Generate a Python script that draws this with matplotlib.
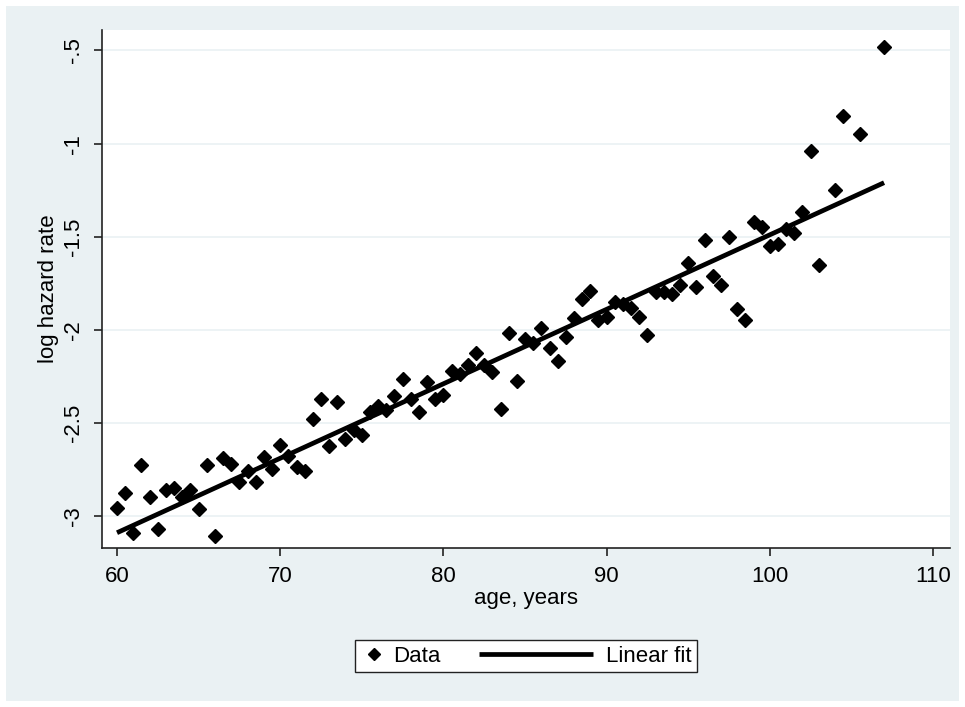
import matplotlib
matplotlib.use("Agg")
import matplotlib.pyplot as plt
from matplotlib.patches import Rectangle
from matplotlib.legend_handler import HandlerLine2D
import numpy as np

plt.rcParams['font.family'] = ['Liberation Sans', 'DejaVu Sans']

age = [60, 60.5, 61, 61.5, 62, 62.5, 63, 63.5, 64, 64.5,
       65, 65.5, 66, 66.5, 67, 67.5, 68, 68.5, 69, 69.5,
       70, 70.5, 71, 71.5, 72, 72.5, 73, 73.5, 74, 74.5,
       75, 75.5, 76, 76.5, 77, 77.5, 78, 78.5, 79, 79.5,
       80, 80.5, 81, 81.5, 82, 82.5, 83, 83.5, 84, 84.5,
       85, 85.5, 86, 86.5, 87, 87.5, 88, 88.5, 89, 89.5,
       90, 90.5, 91, 91.5, 92, 92.5, 93, 93.5, 94, 94.5,
       95, 95.5, 96, 96.5, 97, 97.5, 98, 98.5, 99, 99.5,
       100, 100.5, 101, 101.5, 102, 102.5, 103, 104, 104.5, 105.5,
       107]
log_hazard = [-2.956, -2.878, -3.09, -2.728, -2.90, -3.07, -2.86, -2.85, -2.90, -2.86,
              -2.96, -2.728, -3.11, -2.69, -2.72, -2.82, -2.757, -2.82, -2.685, -2.749,
              -2.619, -2.68, -2.735, -2.76, -2.48, -2.373, -2.624, -2.39, -2.586, -2.54,
              -2.565, -2.44, -2.41, -2.43, -2.355, -2.266, -2.37, -2.44, -2.28, -2.37,
              -2.35, -2.22, -2.24, -2.19, -2.123, -2.19, -2.225, -2.427, -2.016, -2.275,
              -2.05, -2.07, -1.99, -2.096, -2.17, -2.04, -1.935, -1.836, -1.79, -1.95,
              -1.933, -1.85, -1.86, -1.885, -1.93, -2.03, -1.795, -1.795, -1.81, -1.76,
              -1.64, -1.77, -1.52, -1.71, -1.76, -1.50, -1.89, -1.95, -1.42, -1.45,
              -1.55, -1.54, -1.46, -1.48, -1.37, -1.04, -1.65, -1.25, -0.85, -0.95,
              -0.48]

fit_age = [60, 107]
fit_val = [-3.09, -1.21]

x_ticks = [60, 70, 80, 90, 100, 110]
y_ticks = [-3, -2.5, -2, -1.5, -1, -0.5]
y_tick_labels = ['-3', '-2.5', '-2', '-1.5', '-1', '-.5']

W, H = 965, 707
BG = '#EAF1F3'
FS = 16
fig = plt.figure(figsize=(W / 100, H / 100), dpi=100)
fig.patch.set_facecolor('white')
fig.patches.append(Rectangle((6 / W, 6 / H), (W - 12) / W, (H - 12) / H,
                             transform=fig.transFigure, facecolor=BG,
                             edgecolor='none', zorder=-10))

ax = fig.add_axes([102 / W, 1 - 548 / H, (950 - 102) / W, (548 - 30) / H])
ax.set_facecolor('white')

ax.plot(age, log_hazard, linestyle='none', marker='D', markersize=7.5,
        color='black', label='Data', zorder=3)
ax.plot(fit_age, fit_val, color='black', linewidth=3.4, label='Linear fit',
        zorder=3, solid_capstyle='butt')

ax.set_xlim(59.08, 111.04)
ax.set_ylim(-3.172, -0.39)
ax.set_xticks(x_ticks)
ax.set_xticklabels([str(t) for t in x_ticks])
ax.set_yticks(y_ticks)
ax.set_yticklabels(y_tick_labels, rotation=90, va='center')

ax.grid(axis='y', color=BG, linewidth=1.2, zorder=0)
ax.set_axisbelow(True)

for s in ['top', 'right']:
    ax.spines[s].set_visible(False)
for s in ['left', 'bottom']:
    ax.spines[s].set_color('#222222')
    ax.spines[s].set_linewidth(1.2)

ax.tick_params(axis='both', direction='out', length=6, width=1.2,
               color='#222222', labelsize=FS, labelcolor='black')
ax.tick_params(axis='x', pad=7)
ax.tick_params(axis='y', pad=7)

ax.set_xlabel('age, years', fontsize=FS, labelpad=1)
ax.set_ylabel('log hazard rate', fontsize=FS, labelpad=3)


class RightMarker(HandlerLine2D):
    def get_xdata(self, legend, xdescent, ydescent, width, height, fontsize):
        xd, xm = super().get_xdata(legend, xdescent, ydescent, width, height, fontsize)
        return xd, np.array([width - xdescent - 6.0])


class LongLine(HandlerLine2D):
    def get_xdata(self, legend, xdescent, ydescent, width, height, fontsize):
        xd, xm = super().get_xdata(legend, xdescent, ydescent, width, height, fontsize)
        return np.array([-xdescent - 68, width - xdescent - 5]), xm


handles, labels = ax.get_legend_handles_labels()
leg = fig.legend(handles, labels, loc='center', bbox_to_anchor=(526 / W, 1 - 656 / H),
                 ncol=2, frameon=True, fontsize=FS, fancybox=False,
                 edgecolor='#222222', facecolor='white', framealpha=1,
                 handlelength=1.2, handletextpad=0.25, columnspacing=6.0,
                 borderpad=0.25, borderaxespad=0, markerscale=0.8,
                 handler_map={handles[0]: RightMarker(), handles[1]: LongLine()})
leg.get_frame().set_linewidth(1.0)

fig.savefig('out.png', dpi=100, facecolor=fig.get_facecolor())
